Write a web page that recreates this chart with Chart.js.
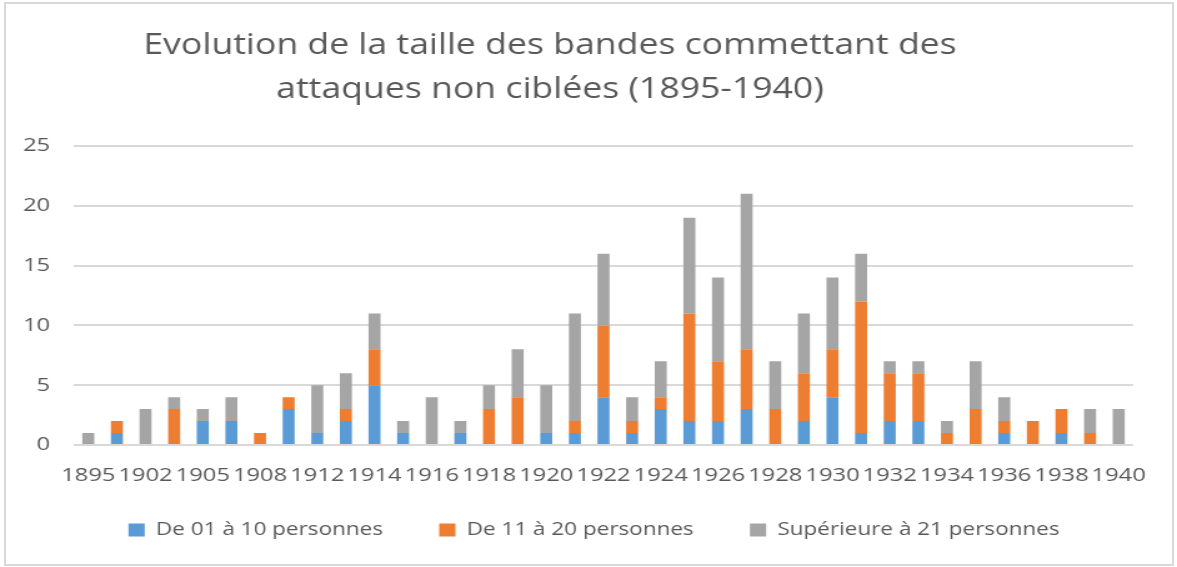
<!DOCTYPE html>
<html lang="fr">
<head>
<meta charset="utf-8">
<title>Evolution de la taille des bandes</title>
<script src="https://cdn.jsdelivr.net/npm/chart.js@4.4.1/dist/chart.umd.min.js"></script>
<style>
  html, body { margin: 0; padding: 0; background: #ffffff; }
  body { width: 1177px; height: 567px; overflow: hidden; position: relative; }
  #wrap { position: absolute; left: 0; top: 0; width: 942px; height: 567px;
          transform: scaleX(1.24947); transform-origin: 0 0; }
  #frame { position: absolute; left: 4px; top: 2px; width: 1170px; height: 564px;
           border: 2px solid #d9d9d9; box-sizing: border-box; pointer-events: none; }
</style>
</head>
<body>
<div id="wrap"><canvas id="c" width="942" height="567"></canvas></div>
<div id="frame"></div>
<script>
// ---- data ----
const titleLines = [
  "Evolution de la taille des bandes commettant des",
  "attaques non ciblées (1895-1940)"
];
const years = [
  "1895","1900","1902","1903","1905","1906","1908","1910",
  "1912","1913","1914","1915","1916","1917","1918","1919",
  "1920","1921","1922","1923","1924","1925","1926","1927",
  "1928","1929","1930","1931","1932","1933","1934","1935",
  "1936","1937","1938","1939","1940"
];
const seriesNames = [
  "De 01 à 10 personnes",
  "De 11 à 20 personnes",
  "Supérieure à 21 personnes"
];
const small = [0,1,0,0,2,2,0,3, 1,2,5,1,0,1,0,0, 1,1,4,1,3,2,2,3, 0,2,4,1,2,2,0,0, 1,0,1,0,0];
const medium = [0,1,0,3,0,0,1,1, 0,1,3,0,0,0,3,4, 0,1,6,1,1,9,5,5, 3,4,4,11,4,4,1,3, 1,2,2,1,0];
const large = [1,0,3,1,1,2,0,0, 4,3,3,1,4,1,2,4, 4,9,6,2,3,8,7,13, 4,5,6,4,1,1,1,4, 2,0,0,2,3];
const yTicks = [0, 5, 10, 15, 20, 25];
const colors = ["#5B9BD5", "#ED7D31", "#A5A5A5"];

const TXT = "#595959";
const FONT = "'Open Sans', 'Noto Sans', sans-serif";

const titlePlugin = {
  id: "excelTitle",
  afterDraw(chart) {
    const ctx = chart.ctx;
    ctx.save();
    ctx.font = "28.5px " + FONT;
    ctx.fillStyle = TXT;
    ctx.textAlign = "center";
    ctx.textBaseline = "alphabetic";
    titleLines.forEach((line, i) => ctx.fillText(line, 440.2, 54 + i * 44));
    ctx.restore();
  }
};

// moves the legend up a little (Excel places it closer to the axis labels)
const legendShift = {
  id: "legendShift",
  afterLayout(chart) {
    const l = chart.legend;
    if (l) { l.top -= 11; l.bottom -= 11; }
  }
};

const seriesData = [small, medium, large];
new Chart(document.getElementById("c"), {
  type: "bar",
  data: {
    labels: years,
    datasets: seriesNames.map((name, i) => ({
      label: name,
      data: seriesData[i],
      backgroundColor: colors[i],
      borderWidth: 0,
      barPercentage: 0.42,
      categoryPercentage: 1.0,
      yAxisID: "y"
    }))
  },
  options: {
    responsive: false,
    animation: false,
    devicePixelRatio: 1,
    layout: { padding: { top: 146, left: 8.8, right: 0, bottom: 7 } },
    plugins: {
      title: { display: false },
      tooltip: { enabled: false },
      legend: {
        position: "bottom",
        labels: {
          boxWidth: 13, boxHeight: 13, padding: 45,
          color: TXT,
          font: { family: FONT, size: 18 }
        }
      }
    },
    scales: {
      x: {
        stacked: true,
        grid: { display: false, drawTicks: false },
        border: { display: false },
        ticks: {
          autoSkip: false, maxRotation: 0, minRotation: 0, padding: 19,
          color: TXT, font: { family: FONT, size: 19 },
          callback(value, index) { return index % 2 === 0 ? this.getLabelForValue(value) : ""; }
        },
        afterFit(s) { s.height = 42; }
      },
      y: {
        stacked: true,
        min: yTicks[0], max: yTicks[yTicks.length - 1],
        grid: { color: "#d9d9d9", lineWidth: 2, drawTicks: false },
        border: { display: false },
        ticks: {
          stepSize: yTicks[1] - yTicks[0], padding: 19,
          color: TXT, font: { family: FONT, size: 19 }
        },
        afterFit(s) { s.width = 50.4; }
      },
      yRight: {
        type: "linear",
        position: "right",
        display: true,
        grid: { display: false, drawTicks: false },
        border: { display: false },
        ticks: { display: false },
        afterFit(s) { s.width = 35.2; }
      }
    }
  },
  plugins: [titlePlugin, legendShift]
});
</script>
</body>
</html>
